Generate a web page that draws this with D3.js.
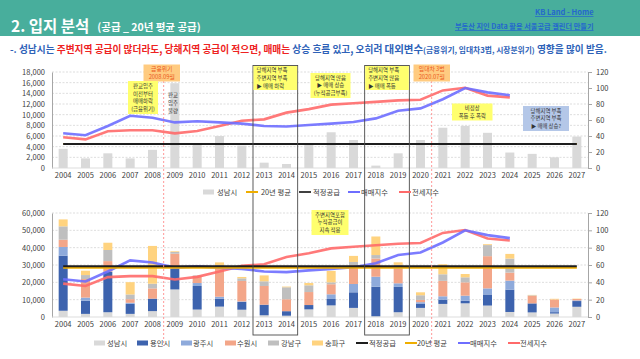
<!DOCTYPE html>
<html><head><meta charset="utf-8">
<script src="https://cdn.jsdelivr.net/npm/d3@7"></script>
<style>
html,body{margin:0;padding:0;background:#fff;}
svg{display:block;}
</style></head>
<body>
<svg id="c" width="640" height="359"></svg>
<script>
// ---------------- DATA ----------------
const years = ["2004","2005","2006","2007","2008","2009","2010","2011","2012","2013","2014","2015","2016","2017","2018","2019","2020","2021","2022","2023","2024","2025","2026","2027"];
const seongnam = [3600,1800,2750,1800,3400,15900,4300,6000,4200,1000,750,4400,6700,5250,450,2750,5250,7550,7900,6600,2900,2650,2000,5900];
const yongin   = [31800,7600,23400,5800,7200,12200,13600,4600,4500,6100,2600,2500,3700,9000,17000,14600,2300,2500,1500,6400,12900,5200,800,3300];
const gwangju  = [5000,1800,0,600,0,0,1700,1100,300,0,0,0,2700,4800,5800,2100,1000,1900,2900,3500,5200,0,2700,400];
const suwon    = [4200,10700,6100,2100,5900,8400,4100,17700,11800,10800,6900,7500,5800,10800,10500,8300,1300,8900,7700,18600,4600,4400,4600,800];
const gangnam  = [7700,2300,6400,2700,2700,1000,300,600,1500,2700,6900,3900,1100,1900,2000,2300,2700,3800,2900,6400,8100,300,0,0];
const songpa   = [4000,2500,4200,7100,21800,400,0,1500,800,3400,400,1300,6600,3500,10700,1500,1700,5800,1900,500,2700,200,400,200];
const indexYears = years.slice(0,21);
const maemae = [43.5,41,52.5,65.3,62.9,57,58.4,57,55.5,52.5,51.8,53.8,55.5,57.4,62,71.5,74.5,86,100,94.5,91];
const jeonse = [38.5,35.8,46,47.2,47.2,43.3,46.3,52.5,59,60.8,69.2,73.6,79.2,81,82.7,84.5,85.4,97,100.3,90.5,88.3];
const properTop = 4500, avgTop = 4550;
const properBottom = 29300, avgBottom = 28400;
const topTicks = [0,2000,4000,6000,8000,10000,12000,14000,16000,18000];
const bottomTicks = [0,10000,20000,30000,40000,50000,60000];
const rightTicks = [0,20,40,60,80,100,120];

const seriesNames = ["성남시","용인시","광주시","수원시","강남구","송파구"];
const seriesData = [seongnam,yongin,gwangju,suwon,gangnam,songpa];
const seriesColors = ["#d9d9d9","#3d63ae","#8eaadb","#f3a689","#bfbfbf","#ffd37f"];

const FONT = "'Noto Sans CJK KR','Noto Sans',sans-serif";
const C_BLUE = "#6e6eff", C_RED = "#ff6a6a", C_BLACK = "#1e1e1e", C_AVG = "#efae00";

const svg = d3.select("#c").style("font-family", FONT);

// ---------------- HEADER ----------------
svg.append("rect").attr("x",0).attr("y",0).attr("width",640).attr("height",36).attr("fill","#48ae9c");
const title = svg.append("text").attr("x",11).attr("y",32).attr("fill","#fff").attr("font-weight","bold");
title.append("tspan").attr("font-size",15.5).text("2. 입지 분석");
title.append("tspan").attr("font-size",10.5).attr("dx",8).attr("dy",-1).text("(공급 _ 20년 평균 공급)");

svg.append("text").attr("x",535).attr("y",15).attr("font-size",7.5).attr("font-weight","bold")
  .attr("fill","#2468cc").attr("text-decoration","underline").text("KB Land - Home");
svg.append("text").attr("x",455).attr("y",29).attr("font-size",7.2).attr("font-weight","bold")
  .attr("fill","#2468cc").attr("text-decoration","underline").text("부동산 지인 Data 활용 서울공급 캘린더 만들기");

const sub = svg.append("text").attr("x",10).attr("y",53).attr("font-weight","bold").attr("font-size",9.5);
const subParts = [
  ["-. 성남시는 ","#2e62b8",1],
  ["주변지역 공급이 많더라도, 당해지역 공급이 적으면, 매매는","#ee2222",1],
  [" 상승 흐름 있고, 오히려 ","#2e62b8",1],
  ["대외변수","#2e62b8",1.08],
  ["(금융위기, 임대차3법, 시장분위기)","#2e62b8",0.8],
  [" 영향을 많이 받음.","#2e62b8",1]
];
subParts.forEach(p=>sub.append("tspan").attr("fill",p[1]).attr("data-s",p[2]).text(p[0]));
(function fit(){
  const target = 597;
  const w = sub.node().getComputedTextLength();
  const base = 9.5*target/w;
  sub.selectAll("tspan").attr("font-size",function(){return base*(+this.getAttribute("data-s"));});
  const w2 = sub.node().getComputedTextLength();
  const base2 = base*target/w2;
  sub.selectAll("tspan").attr("font-size",function(){return base2*(+this.getAttribute("data-s"));});
})();

// ---------------- SCALES ----------------
const x = d3.scaleBand().domain(years).range([52,588]).padding(0);
const bw = x.bandwidth();
const barW = 9;
const cx = y => x(y)+bw/2;

const yTop = d3.scaleLinear().domain([0,18000]).range([168,72]);
const yTopR = d3.scaleLinear().domain([0,120]).range([168,72]);
const yBot = d3.scaleLinear().domain([0,60000]).range([317,213]);
const yBotR = d3.scaleLinear().domain([0,120]).range([317,213]);

function frame(g, yL, yR, lTicks){
  g.append("g").selectAll("line").data(lTicks.slice(1)).join("line")
    .attr("x1",52).attr("x2",588).attr("y1",d=>yL(d)).attr("y2",d=>yL(d))
    .attr("stroke","#d4d4d4").attr("stroke-width",0.8).attr("stroke-dasharray","2,1.5");
  const la = g.append("g").attr("transform","translate(52,0)")
    .call(d3.axisLeft(yL).tickValues(lTicks).tickSize(0).tickPadding(7).tickFormat(d3.format(",")));
  la.select(".domain").attr("stroke","#a6a6a6");
  la.selectAll("text").attr("font-size",7.5).attr("fill","#404040").attr("font-family",FONT);
  const ra = g.append("g").attr("transform","translate(588,0)")
    .call(d3.axisRight(yR).tickValues(rightTicks).tickSize(4).tickPadding(4));
  ra.select(".domain").attr("stroke","#a6a6a6");
  ra.selectAll("line").attr("stroke","#a6a6a6");
  ra.selectAll("text").attr("font-size",7.5).attr("fill","#404040").attr("font-family",FONT);
  g.append("line").attr("x1",52).attr("x2",588).attr("y1",yL(0)).attr("y2",yL(0)).attr("stroke","#d4d4d4").attr("stroke-width",0.8);
  const xa = g.append("g").attr("transform",`translate(0,${yL(0)})`)
    .call(d3.axisBottom(x).tickSize(0).tickPadding(5));
  xa.select(".domain").remove();
  xa.selectAll("text").attr("font-size",7.5).attr("fill","#404040").attr("font-family",FONT);
}

function indexLines(g, yR){
  const line = d3.line().x((d,i)=>cx(indexYears[i])).y(d=>yR(d));
  g.append("path").datum(jeonse).attr("d",line).attr("fill","none").attr("stroke",C_RED).attr("stroke-width",2.6).attr("stroke-opacity",0.9);
  g.append("path").datum(maemae).attr("d",line).attr("fill","none").attr("stroke",C_BLUE).attr("stroke-width",2.6).attr("stroke-opacity",0.9);
}
function hLine(g, y, v, color, w){
  g.append("line").attr("x1",cx(years[0])).attr("x2",cx(years[years.length-1]))
    .attr("y1",y(v)).attr("y2",y(v)).attr("stroke",color).attr("stroke-width",w);
}

// ---------------- TOP CHART ----------------
const gt = svg.append("g");
frame(gt, yTop, yTopR, topTicks);
gt.append("g").selectAll("rect").data(seongnam).join("rect")
  .attr("x",(d,i)=>cx(years[i])-barW/2).attr("width",barW)
  .attr("y",d=>yTop(d)).attr("height",d=>yTop(0)-yTop(d)).attr("fill",seriesColors[0]);
hLine(gt, yTop, avgTop, C_AVG, 1.6);
hLine(gt, yTop, properTop, C_BLACK, 1.8);
indexLines(gt, yTopR);

// ---------------- BOTTOM CHART ----------------
const gb = svg.append("g");
frame(gb, yBot, yBotR, bottomTicks);
const stackRows = years.map((y,i)=>{const o={year:y}; seriesNames.forEach((n,k)=>o[n]=seriesData[k][i]); return o;});
const stacked = d3.stack().keys(seriesNames)(stackRows);
gb.append("g").selectAll("g").data(stacked).join("g").attr("fill",(d,k)=>seriesColors[k])
  .selectAll("rect").data(d=>d).join("rect")
  .attr("x",d=>cx(d.data.year)-barW/2).attr("width",barW)
  .attr("y",d=>yBot(d[1])).attr("height",d=>yBot(d[0])-yBot(d[1]));
indexLines(gb, yBotR);
hLine(gb, yBot, avgBottom, C_AVG, 2);
hLine(gb, yBot, properBottom, C_BLACK, 2);

// ---------------- ANNOTATIONS ----------------
const ann = svg.append("g");
[["2009",81],["2021",81]].forEach(([yr,top])=>{
  ann.append("line").attr("x1",x(yr)).attr("x2",x(yr)).attr("y1",top).attr("y2",346)
    .attr("stroke","#ff8c8c").attr("stroke-width",0.9).attr("stroke-dasharray","2,2");
});
[["2013","2014"],["2018","2019"]].forEach(([a,b])=>{
  ann.append("rect").attr("x",x(a)).attr("y",65.5).attr("width",x(b)+bw-x(a)).attr("height",335-65.5)
    .attr("fill","none").attr("stroke","#4a4a4a").attr("stroke-width",0.9);
});
function box(x0,y0,w,h,fill,lines,opt={}){
  const g = ann.append("g");
  g.append("rect").attr("x",x0).attr("y",y0).attr("width",w).attr("height",h).attr("fill",fill);
  const n = lines.length, fs = opt.fs||5.4, lh = opt.lh||7.8;
  const anchor = opt.align==="left"?"start":"middle";
  const tx = opt.align==="left"? x0+3 : x0+w/2;
  const t0 = y0 + h/2 - (n-1)*lh/2 + fs*0.36;
  lines.forEach((s,i)=>g.append("text").attr("x",tx).attr("y",t0+i*lh).attr("text-anchor",anchor)
    .attr("font-size",fs).attr("fill",opt.color||"#333").text(s));
}
box(143.5,64.5,36.5,17,"#ffcb80",["금융위기","2008.09월"],{color:"#ec5a1e",fs:5.8,lh:8});
box(128,81,30,33,"#ffff6e",["판교입주","이전부터","매매하락","(금융위기)"],{fs:5.4,lh:7.8});
box(162,91,22,24,"none",["판교","입주","물량"],{fs:5.4,lh:7.8});
box(x("2013")+0.5,66,x("2014")+bw-x("2013")-1,24,"#ffff6e",["당해지역 부족","주변지역 부족","▶ 매매 하락"],{align:"left"});
box(310.5,73,40,25,"#ffff6e",["당해지역 많음","▶ 매매 상승","(누적공급부족)"]);
box(x("2018")+0.5,66,x("2019")+bw-x("2018")-1,24,"#ffff6e",["당해지역 부족","주변지역 많음","▶ 매매 폭등"],{align:"left"});
box(413.5,64.5,36.5,17,"#ffcb80",["임대차 3법","2020.07월"],{color:"#ec5a1e",fs:5.8,lh:8});
box(452,103.5,40.5,17,"#ffff6e",["비정상","폭등 후 폭락"]);
box(523,106,46,25,"#b4c7e8",["당해지역 부족","주변지역 부족","▶ 매매 상승?"]);
box(311.5,210,37,25,"#ffff6e",["주변지역포함","누적공급이","지속 적용"]);

// ---------------- LEGENDS ----------------
function legend(y, items){
  const g = svg.append("g");
  items.forEach(it=>{
    if(it.type==="rect") g.append("rect").attr("x",it.x).attr("y",y-2.5).attr("width",11).attr("height",5).attr("fill",it.color);
    else g.append("line").attr("x1",it.x).attr("x2",it.x+12).attr("y1",y).attr("y2",y).attr("stroke",it.color).attr("stroke-width",2);
    g.append("text").attr("x",it.tx).attr("y",y+2.6).attr("font-size",7.3).attr("fill","#404040").text(it.label);
  });
}
legend(192,[
  {type:"rect",x:203,tx:217,color:seriesColors[0],label:"성남시"},
  {type:"line",x:246,tx:261,color:C_AVG,label:"20년 평균"},
  {type:"line",x:299,tx:313,color:"#404040",label:"적정공급"},
  {type:"line",x:348,tx:361,color:C_BLUE,label:"매매지수"},
  {type:"line",x:399,tx:412,color:C_RED,label:"전세지수"}
]);
legend(343,[
  {type:"rect",x:94,tx:107,color:seriesColors[0],label:"성남시"},
  {type:"rect",x:137,tx:150,color:seriesColors[1],label:"용인시"},
  {type:"rect",x:181,tx:193,color:seriesColors[2],label:"광주시"},
  {type:"rect",x:225,tx:237,color:seriesColors[3],label:"수원시"},
  {type:"rect",x:268,tx:281,color:seriesColors[4],label:"강남구"},
  {type:"rect",x:312,tx:325,color:seriesColors[5],label:"송파구"},
  {type:"line",x:356,tx:369,color:C_BLACK,label:"적정공급"},
  {type:"line",x:405,tx:417,color:C_AVG,label:"20년 평균"},
  {type:"line",x:458,tx:470,color:C_BLUE,label:"매매지수"},
  {type:"line",x:508,tx:520,color:C_RED,label:"전세지수"}
]);
</script>
</body></html>
